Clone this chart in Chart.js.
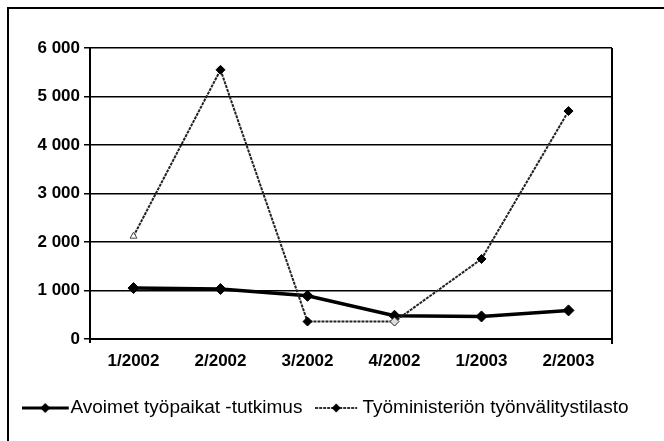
<!DOCTYPE html>
<html>
<head>
<meta charset="utf-8">
<script src="https://cdn.jsdelivr.net/npm/chart.js@4"></script>
<style>
  html, body { margin: 0; padding: 0; background: #fff; overflow: hidden; }
  #wrap { position: relative; width: 664px; height: 441px; overflow: hidden; }
  #frame {
    position: absolute; left: 7px; top: 7px; width: 700px; height: 500px;
    border-left: 2px solid #000; border-top: 2px solid #000;
    pointer-events: none;
  }
</style>
</head>
<body>
<div id="wrap">
  <canvas id="chart" width="664" height="441"></canvas>
  <div id="frame"></div>
</div>
<script>
// Quarters on the x axis
const quarters = ['1/2002', '2/2002', '3/2002', '4/2002', '1/2003', '2/2003'];

// Series values
const surveyValues = [1050, 1030, 890, 480, 465, 590];        // Avoimet työpaikat -tutkimus
const ministryValues = [2120, 5550, 360, 360, 1650, 4700];    // Työministeriön työnvälitystilasto

const seriesNames = ['Avoimet työpaikat -tutkimus', 'Työministeriön työnvälitystilasto'];

// y axis: 0 ... 6 000, step 1 000
const yMin = 0, yMax = 6000, yStep = 1000;

const tickFont = { family: "'Liberation Sans', Arial, sans-serif", size: 17, weight: 'bold' };
const legendFont = { family: "'Liberation Sans', Arial, sans-serif", size: 19 };

function spaced(v) {
    return String(v).replace(/\B(?=(\d{3})+(?!\d))/g, ' ');
}

// small canvases for the legend: line with a diamond in the middle
// (canvas is wider than the line so the line sits left of the label text)
function legendMarker(w, lineLen, h, lineWidth, lineColor, dash, r) {
    const c = document.createElement('canvas');
    c.width = w; c.height = h;
    const g = c.getContext('2d');
    g.strokeStyle = lineColor;
    g.lineWidth = lineWidth;
    g.setLineDash(dash);
    g.beginPath();
    g.moveTo(0, h / 2);
    g.lineTo(lineLen, h / 2);
    g.stroke();
    g.setLineDash([]);
    g.fillStyle = '#000';
    const cx = lineLen / 2;
    g.beginPath();
    g.moveTo(cx, h / 2 - r);
    g.lineTo(cx + r, h / 2);
    g.lineTo(cx, h / 2 + r);
    g.lineTo(cx - r, h / 2);
    g.closePath();
    g.fill();
    return c;
}

const markerSurvey = legendMarker(53, 47, 14, 3, '#000', [], 5);
const markerMinistry = legendMarker(50, 42, 14, 2, '#333', [3, 1], 4.5);

// plot frame on the right side
const rightBorder = {
    id: 'rightBorder',
    afterDraw(chart) {
        const a = chart.chartArea;
        const ctx = chart.ctx;
        ctx.save();
        ctx.strokeStyle = '#000';
        ctx.lineWidth = 2;
        ctx.beginPath();
        ctx.moveTo(a.right, a.top);
        ctx.lineTo(a.right, a.bottom + 5);
        ctx.moveTo(a.left, a.bottom);
        ctx.lineTo(a.left, a.bottom + 4);
        ctx.stroke();
        ctx.restore();
    }
};

const ctx = document.getElementById('chart').getContext('2d');
const chart = new Chart(ctx, {
    type: 'line',
    data: {
        labels: quarters,
        datasets: [{
            label: seriesNames[0],
            data: surveyValues,
            borderColor: '#000',
            borderWidth: 3.5,
            pointStyle: 'rectRot',
            pointRadius: 5.5,
            pointBackgroundColor: '#000',
            pointBorderColor: '#000',
            pointBorderWidth: 1,
            tension: 0,
            order: 1
        }, {
            label: seriesNames[1],
            data: ministryValues,
            borderColor: '#222',
            borderWidth: 2,
            borderDash: [3, 1],
            pointStyle: ['triangle', 'rectRot', 'rectRot', 'rectRot', 'rectRot', 'rectRot'],
            pointRadius: [4, 4.5, 4.5, 4.5, 4.5, 4.5],
            pointBackgroundColor: ['#fff', '#000', '#000', '#ddd', '#000', '#000'],
            pointBorderColor: ['#444', '#000', '#000', '#222', '#000', '#000'],
            pointBorderWidth: 1,
            tension: 0,
            order: 0
        }]
    },
    options: {
        responsive: false,
        animation: false,
        layout: {
            padding: { left: 0, top: 48, right: 0, bottom: 13.5 }
        },
        plugins: {
            tooltip: { enabled: false },
            legend: {
                position: 'bottom',
                labels: {
                    usePointStyle: true,
                    pointStyleWidth: 25.5,
                    padding: 25,
                    color: '#000',
                    font: legendFont,
                    sort: (a, b) => a.datasetIndex - b.datasetIndex,
                    generateLabels: (chart) => chart.data.datasets.map((ds, i) => ({
                        text: ds.label,
                        datasetIndex: i,
                        pointStyle: i === 0 ? markerSurvey : markerMinistry,
                        fillStyle: '#000',
                        strokeStyle: '#000',
                        lineWidth: 0,
                        fontColor: '#000',
                        hidden: false
                    }))
                }
            }
        },
        scales: {
            x: {
                offset: true,
                grid: { display: false, drawTicks: false },
                border: { display: true, color: '#000', width: 2 },
                ticks: { color: '#000', font: tickFont, padding: 12, maxRotation: 0 },
                afterFit: (scale) => { scale.height = 34.5; }
            },
            y: {
                min: yMin,
                max: yMax,
                grid: { color: '#000', lineWidth: 1.5, tickLength: 6, tickColor: '#000' },
                border: { display: true, color: '#000', width: 2 },
                ticks: {
                    stepSize: yStep,
                    color: '#000',
                    font: tickFont,
                    padding: 4,
                    callback: (v) => spaced(v)
                },
                afterFit: (scale) => { scale.width = 90; }
            },
            // empty right-hand axis that only keeps space to the right of the plot
            yRight: {
                position: 'right',
                min: yMin,
                max: yMax,
                grid: { display: false, drawTicks: false },
                border: { display: false },
                ticks: { display: false },
                afterFit: (scale) => { scale.width = 52; }
            }
        }
    },
    plugins: [rightBorder]
});
</script>
</body>
</html>
